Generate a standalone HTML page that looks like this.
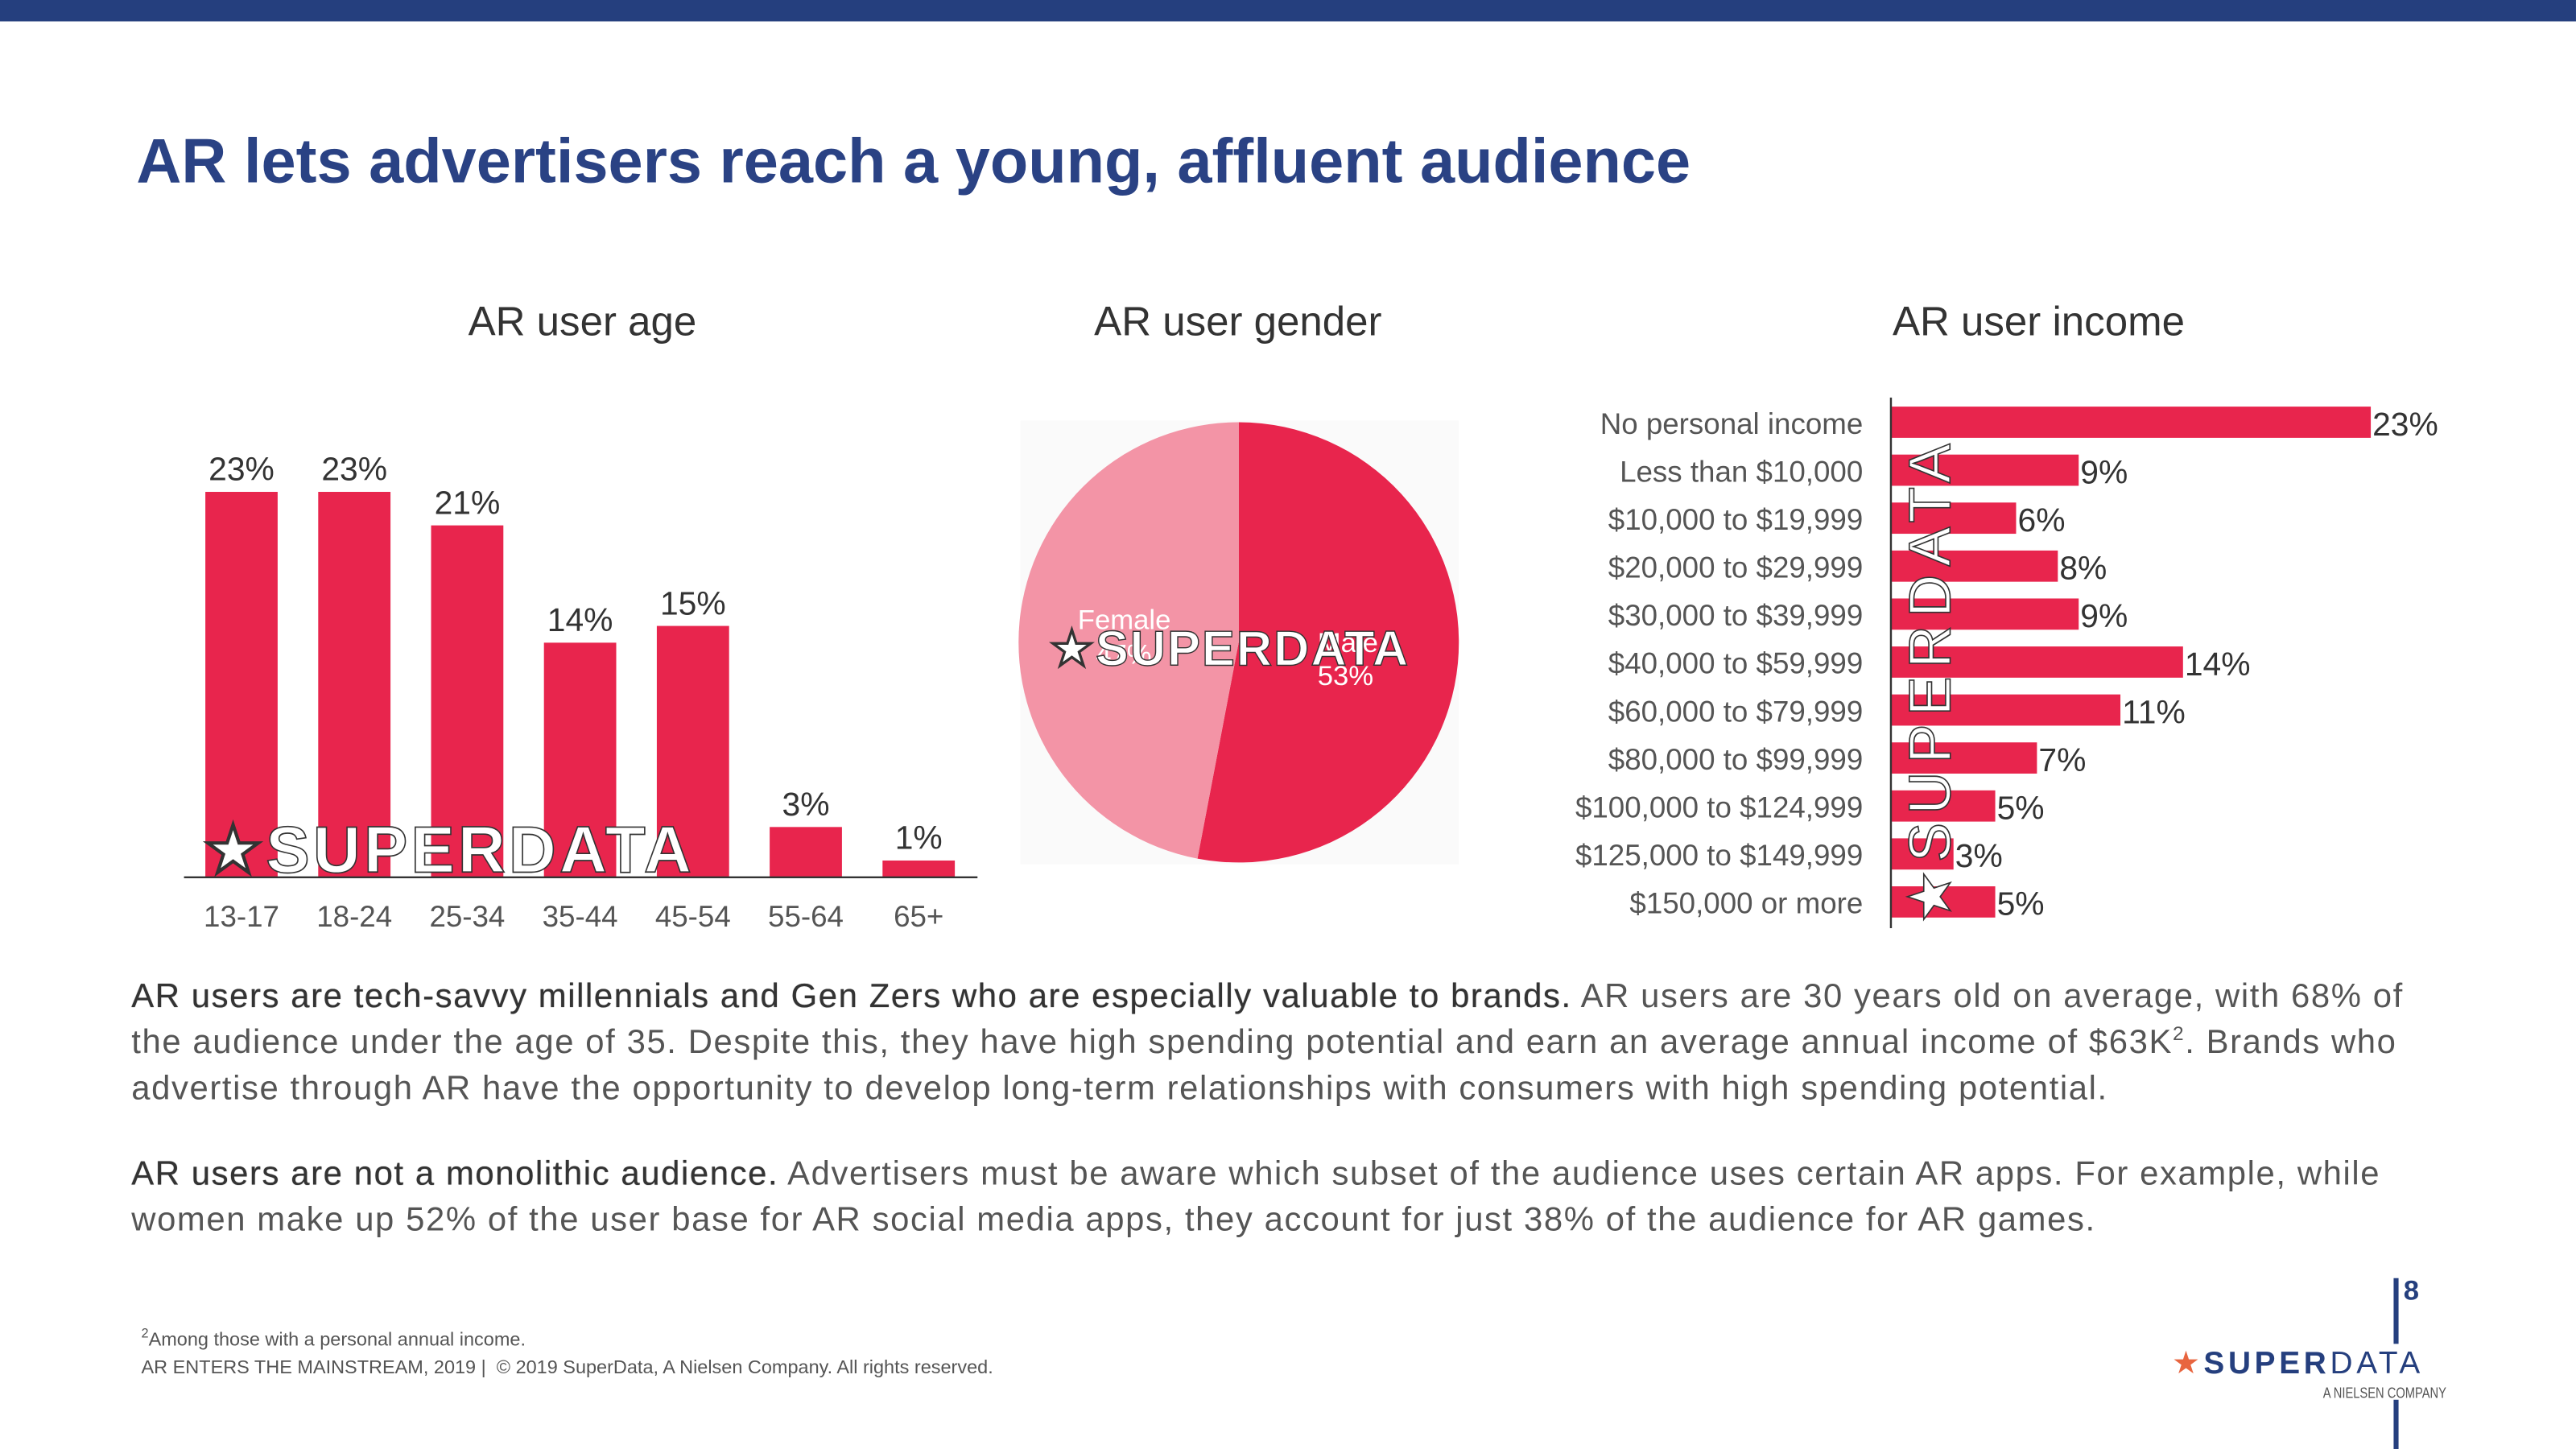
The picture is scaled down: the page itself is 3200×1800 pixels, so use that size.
<!DOCTYPE html>
<html><head><meta charset="utf-8">
<style>
html,body{margin:0;padding:0;width:3200px;height:1800px;overflow:hidden;background:#fff;}
#page{position:absolute;left:0;top:0;width:1568px;height:882px;transform:scale(2.0408);transform-origin:0 0;font-family:"Liberation Sans",sans-serif;}
.abs{position:absolute;}
.ctitle{position:absolute;font-size:25px;color:#333;top:182px;}
p{margin:0;}
sup{line-height:0;}
.para{position:absolute;left:80px;width:1450px;font-size:20.5px;line-height:28px;color:#555;white-space:nowrap;letter-spacing:0.78px;}
</style></head>
<body>
<div id="page">
<div class="abs" style="left:0;top:0;width:1568px;height:13px;background:#253f7e;"></div>
<div class="abs" style="left:83px;top:78px;font-size:38px;font-weight:bold;color:#2a4284;letter-spacing:0px;">AR lets advertisers reach a young, affluent audience</div>
<div class="ctitle" style="left:285px;">AR user age</div>
<div class="ctitle" style="left:666px;">AR user gender</div>
<div class="ctitle" style="left:1152px;">AR user income</div>
<svg id="charts" class="abs" style="left:0;top:0" width="1568" height="882"></svg>
<div class="para" style="top:593px;">
<span style="color:#333;text-shadow:0 0 0.4px #333">AR users are tech-savvy millennials and Gen Zers who are especially valuable to brands.</span> AR users are 30 years old on average, with 68% of<br>the audience under the age of 35. Despite this, they have high spending potential and earn an average annual income of $63K<sup style="font-size:12px">2</sup>. Brands who<br>advertise through AR have the opportunity to develop long-term relationships with consumers with high spending potential.</div>
<div class="para" style="top:701px;">
<span style="color:#333;text-shadow:0 0 0.4px #333">AR users are not a monolithic audience.</span> Advertisers must be aware which subset of the audience uses certain AR apps. For example, while<br>women make up 52% of the user base for AR social media apps, they account for just 38% of the audience for AR games.</div>
<div class="abs" style="left:86px;top:808px;font-size:11.5px;line-height:17px;color:#555;"><sup style="font-size:8px">2</sup>Among those with a personal annual income.<br>AR ENTERS THE MAINSTREAM, 2019 | &nbsp;© 2019 SuperData, A Nielsen Company. All rights reserved.</div>
<div class="abs" style="left:1457px;top:778px;width:3px;height:40px;background:#253f7e;"></div>
<div class="abs" style="left:1457px;top:852px;width:3px;height:30px;background:#253f7e;"></div>
<div class="abs" style="left:1463px;top:776px;font-size:17px;font-weight:bold;color:#253f7e;">8</div>
<div class="abs" style="left:1322px;top:819px;font-size:19px;color:#253f7e;letter-spacing:2.3px;white-space:nowrap;"><span style="color:#e8653f">★</span><b>SUPER</b>DATA</div>
<div class="abs" style="left:1414px;top:843px;font-size:9px;color:#555;transform:scaleX(0.8);transform-origin:0 0;white-space:nowrap;">A NIELSEN COMPANY</div>
</div>
<script>
const ageCats=["13-17","18-24","25-34","35-44","45-54","55-64","65+"];
const ageVals=[23,23,21,14,15,3,1];
const genderCats=["Male","Female"];
const genderVals=[53,47];
const incCats=["No personal income","Less than $10,000","$10,000 to $19,999","$20,000 to $29,999","$30,000 to $39,999","$40,000 to $59,999","$60,000 to $79,999","$80,000 to $99,999","$100,000 to $124,999","$125,000 to $149,999","$150,000 or more"];
const incVals=[23,9,6,8,9,14,11,7,5,3,5];

const svg=document.getElementById('charts');
const NS='http://www.w3.org/2000/svg';
function mk(t,a,txt){const e=document.createElementNS(NS,t);for(const k in a)e.setAttribute(k,a[k]);if(txt!==undefined)e.textContent=txt;svg.appendChild(e);return e;}
const RED='#e8254d';
const ageBase=534, ageScale=10.2;
const ax=i=>147+i*68.7;
const ay=v=>ageBase-v*ageScale;
ageVals.forEach((v,i)=>{
 let r=mk('rect',{x:ax(i)-22,y:ay(v),width:44,height:ageBase-ay(v),fill:RED});
 
 
 let t=mk('text',{x:ax(i),y:ay(v)-7,'text-anchor':'middle','font-size':20,fill:'#333'},v+'%');
 
 
 let c=mk('text',{x:ax(i),y:564,'text-anchor':'middle','font-size':18,fill:'#555'},ageCats[i]);
 
 
});
let axl=mk('line',{x1:112,x2:595,y1:ageBase,y2:ageBase,stroke:'#333','stroke-width':1.2});


let wm1=mk('text',{x:124,y:531,'font-size':40,'font-weight':'bold',fill:'#fff',stroke:'#333','stroke-width':0.8,'letter-spacing':2},'★SUPERDATA');


let bg=mk('rect',{x:621,y:256,width:267,height:270,fill:'#fafafa'});


const cx=754,cy=391,R=134;
const tot=genderVals.reduce((a,b)=>a+b,0);
const pcol=[RED,'#f394a6'];
let ang=0;
genderVals.forEach((v,i)=>{
 const a0=ang, a1=ang+v/tot*2*Math.PI; ang=a1;
 const p=(a)=>[cx+R*Math.sin(a),cy-R*Math.cos(a)];
 const [x0,y0]=p(a0),[x1,y1]=p(a1);
 let s=mk('path',{d:`M${cx},${cy}L${x0},${y0}A${R},${R} 0 ${a1-a0>Math.PI?1:0} 1 ${x1},${y1}Z`,fill:pcol[i]});
 
 
});
let fl=mk('text',{x:656,y:383,'font-size':17,fill:'#fff'},genderCats[1]);


let fv=mk('text',{x:667,y:404,'font-size':17,fill:'#fff'},genderVals[1]+'%');


let ml=mk('text',{x:802,y:397,'font-size':17,fill:'#fff'},genderCats[0]);


let mv=mk('text',{x:802,y:417,'font-size':17,fill:'#fff'},genderVals[0]+'%');


let wm2=mk('text',{x:639,y:405,'font-size':30,'font-weight':'bold',fill:'#fff',stroke:'#333','stroke-width':0.7,'letter-spacing':1},'★SUPERDATA');


const ix0=1151, iScale=12.7;
const iy=i=>257+i*29.2;
incVals.forEach((v,i)=>{
 let r=mk('rect',{x:ix0,y:iy(i)-9.5,width:v*iScale,height:19,fill:RED});
 
 
 let t=mk('text',{x:ix0+v*iScale+1,y:iy(i)+8,'font-size':20,fill:'#333'},v+'%');
 
 
 let c=mk('text',{x:1134,y:iy(i)+7,'text-anchor':'end','font-size':18,fill:'#555'},incCats[i]);
 
 
});
let iax=mk('line',{x1:ix0,x2:ix0,y1:242,y2:565,stroke:'#333','stroke-width':1.2});


let wm3=mk('text',{x:0,y:0,'font-size':36,fill:'#fff',stroke:'#333','stroke-width':0.8,'letter-spacing':5,transform:'translate(1187,562) rotate(-90)'},'★SUPERDATA');


</script>
</body></html>
